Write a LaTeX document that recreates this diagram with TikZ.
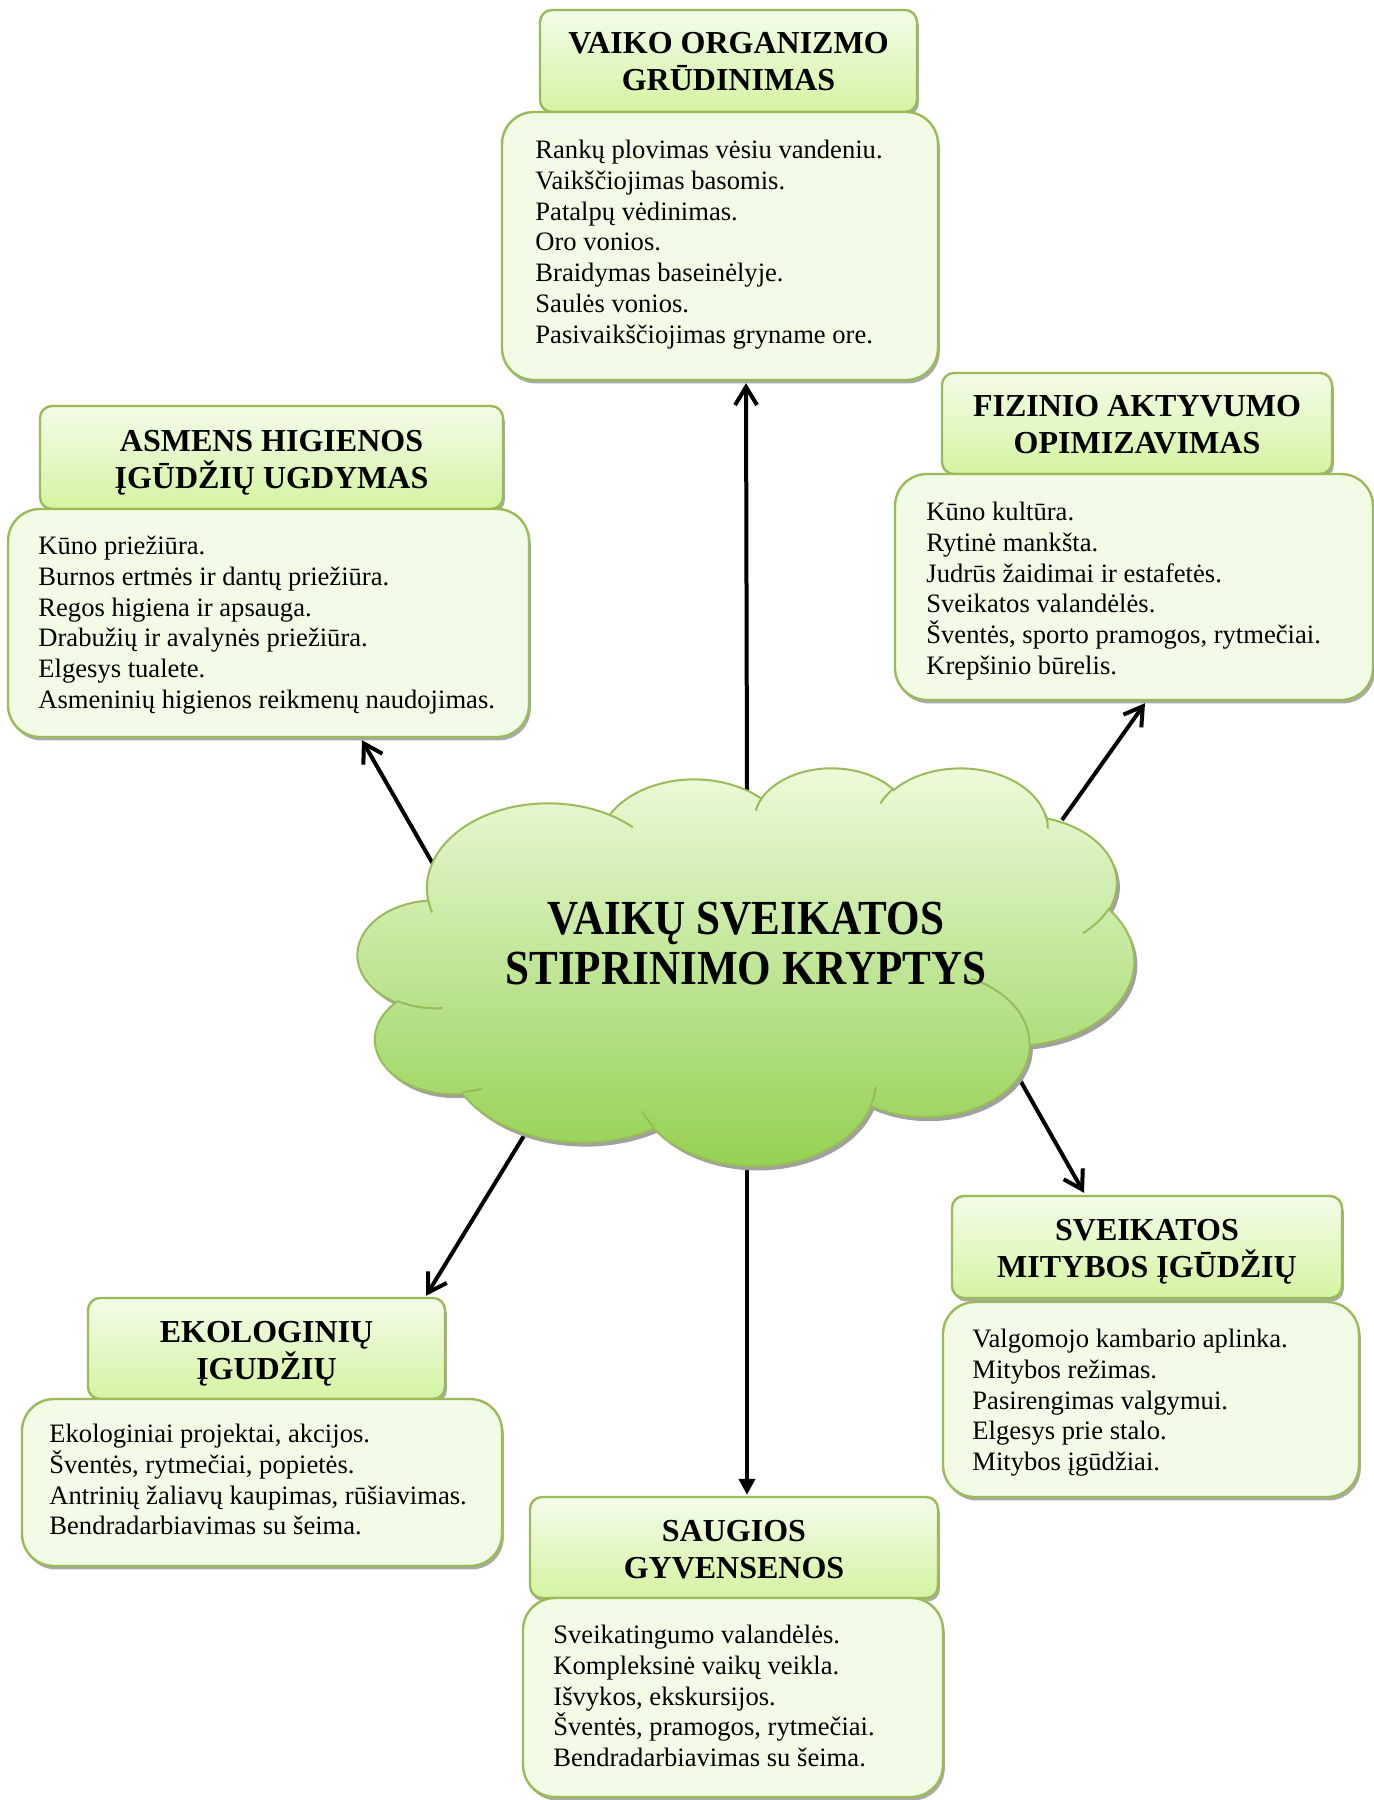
\documentclass[tikz,border=0pt]{standalone}
\usepackage{fontspec}
\setmainfont{Liberation Serif}
\usepackage{graphicx}
\usetikzlibrary{arrows.meta,shadows,fit}
\definecolor{bord}{RGB}{155,187,89}
\definecolor{ttop}{RGB}{243,252,233}
\definecolor{tbot}{RGB}{212,244,162}
\definecolor{bfill}{RGB}{241,251,229}
\definecolor{ctop}{RGB}{238,251,220}
\definecolor{cbot}{RGB}{146,208,80}
\definecolor{shad}{RGB}{160,160,160}

% visual angle (DrawingML) -> parametric angle for TikZ elliptic arcs
\newcommand\mkcloudarc[5]{%
  \pgfmathsetmacro\cldtmpa{atan2((#2)*sin(#4),(#3)*cos(#4))}%
  \pgfmathsetmacro\cldtmpb{atan2((#2)*sin((#4)+(#5)),(#3)*cos((#4)+(#5)))}%
  \pgfmathsetmacro\cldtmpc{(\cldtmpb)-(\cldtmpa)}%
  \pgfmathsetmacro\cldtmpc{(\cldtmpc<0)?(\cldtmpc+360):(\cldtmpc)}%
  \expandafter\let\csname cls#1\endcsname\cldtmpa
  \expandafter\let\csname cld#1\endcsname\cldtmpc}

\newcommand\cloudoutline{(39,143.7)
  arc[start angle=\clsA,delta angle=\cldA,x radius=67.53,y radius=91.90]
  arc[start angle=\clsB,delta angle=\cldB,x radius=53.33,y radius=72.67]
  arc[start angle=\clsC,delta angle=\cldC,x radius=43.65,y radius=59.45]
  arc[start angle=\clsD,delta angle=\cldD,x radius=48.57,y radius=65.95]
  arc[start angle=\clsE,delta angle=\cldE,x radius=53.33,y radius=72.73]
  arc[start angle=\clsF,delta angle=\cldF,x radius=67.75,y radius=92.20]
  arc[start angle=\clsG,delta angle=\cldG,x radius=57.85,y radius=78.67]
  arc[start angle=\clsH,delta angle=\cldH,x radius=67.52,y radius=92.15]
  arc[start angle=\clsI,delta angle=\cldI,x radius=77.20,y radius=105.43]
  arc[start angle=\clsJ,delta angle=\cldJ,x radius=43.60,y radius=59.18]
  arc[start angle=\clsK,delta angle=\cldK,x radius=43.45,y radius=59.45]
  -- cycle}

\begin{document}
\begin{tikzpicture}[x=0.5pt,y=-0.5pt,
  boxshadow/.style={drop shadow={shadow xshift=0.9pt,shadow yshift=-1.7pt,fill=shad,opacity=0.9}},
  titlebox/.style={draw=bord,line width=1.2pt,rounded corners=6pt,top color=ttop,bottom color=tbot,inner sep=0pt,boxshadow},
  bodybox/.style={draw=bord,line width=1.2pt,rounded corners=16pt,fill=bfill,inner sep=0pt,boxshadow},
  titletext/.style={font=\fontsize{16}{18.3}\selectfont\bfseries,align=center,inner sep=0pt,anchor=north},
  bodytext/.style={font=\fontsize{13.3}{15.4}\selectfont,align=left,inner sep=0pt,anchor=north west},
  arr/.style={line width=2pt,-{Straight Barb[length=9pt,width=11pt]}},
  arrf/.style={line width=2pt,-{Triangle[length=8pt,width=8pt]}},
  cloudline/.style={draw=bord,line width=1pt}
  ]
\useasboundingbox (0,0) rectangle (1374,1800);

% cloud arc angles
\mkcloudarc{A}{67.53}{91.90}{-190.4875}{123.7805}
\mkcloudarc{B}{53.33}{72.67}{-144.1024}{89.9452}
\mkcloudarc{C}{43.65}{59.45}{-145.8079}{99.7230}
\mkcloudarc{D}{48.57}{65.95}{-130.9861}{117.2417}
\mkcloudarc{E}{53.33}{72.73}{-78.7089}{109.0269}
\mkcloudarc{F}{67.75}{92.20}{-46.2673}{130.2690}
\mkcloudarc{G}{57.85}{78.67}{0.6250}{114.0333}
\mkcloudarc{H}{67.52}{92.15}{22.4516}{115.1726}
\mkcloudarc{I}{77.20}{105.43}{66.2426}{75.7110}
\mkcloudarc{J}{43.60}{59.18}{-274.9421}{146.7356}
\mkcloudarc{K}{43.45}{59.45}{-246.8285}{152.5189}
\mkcloudarc{L}{43.45}{59.45}{86.742}{26.4295}
\mkcloudarc{M}{43.60}{59.18}{73.6105}{11.4475}
\mkcloudarc{N}{67.52}{92.15}{137.6241}{14.0811}
\mkcloudarc{O}{67.52}{92.15}{6.4533}{15.9984}
\mkcloudarc{P}{57.85}{78.67}{-70.2924}{70.9174}
\mkcloudarc{Q}{53.33}{72.73}{30.3180}{27.7515}
\mkcloudarc{R}{48.57}{65.95}{-13.7443}{14.8572}
\mkcloudarc{S}{48.57}{65.95}{-149.1815}{18.1959}
\mkcloudarc{T}{43.65}{59.45}{-163.4943}{17.6910}
\mkcloudarc{U}{67.53}{91.90}{-66.7070}{12.3194}
\mkcloudarc{V}{67.53}{91.90}{157.6544}{11.8582}

% ---------- boxes ----------
\node[titlebox,fit={(540,10) (917,112)}] (h1) {};
\node[bodybox,fit={(502,112) (938,380)}] (b1) {};
\node[titletext] (ht1) at (728.5,23) {\rule{0pt}{15pt}VAIKO ORGANIZMO\\GRŪDINIMAS};
\node[bodytext] (bt1) at (535,133) {\rule{0pt}{12.5pt}Rankų plovimas vėsiu vandeniu.\\Vaikščiojimas basomis.\\Patalpų vėdinimas.\\Oro vonios.\\Braidymas baseinėlyje.\\Saulės vonios.\\Pasivaikščiojimas gryname ore.};

\node[titlebox,fit={(40,406) (503,509)}] (h2) {};
\node[bodybox,fit={(8,509) (529,737)}] (b2) {};
\node[titletext] (ht2) at (271.5,421) {\rule{0pt}{15pt}ASMENS HIGIENOS\\ĮGŪDŽIŲ UGDYMAS};
\node[bodytext] (bt2) at (38,529) {\rule{0pt}{12.5pt}Kūno priežiūra.\\Burnos ertmės ir dantų priežiūra.\\Regos higiena ir apsauga.\\Drabužių ir avalynės priežiūra.\\Elgesys tualete.\\Asmeninių higienos reikmenų naudojimas.};

\node[titlebox,fit={(942,373) (1332,474)}] (h3) {};
\node[bodybox,fit={(895,474) (1373,700)}] (b3) {};
\node[titletext] (ht3) at (1137,386) {\rule{0pt}{15pt}FIZINIO AKTYVUMO\\OPIMIZAVIMAS};
\node[bodytext] (bt3) at (926,495) {\rule{0pt}{12.5pt}Kūno kultūra.\\Rytinė mankšta.\\Judrūs žaidimai ir estafetės.\\Sveikatos valandėlės.\\Šventės, sporto pramogos, rytmečiai.\\Krepšinio būrelis.};

\node[titlebox,fit={(952,1196) (1342,1298)}] (h4) {};
\node[bodybox,fit={(943,1302) (1359,1497)}] (b4) {};
\node[titletext] (ht4) at (1147,1210) {\rule{0pt}{15pt}SVEIKATOS\\MITYBOS ĮGŪDŽIŲ};
\node[bodytext] (bt4) at (972,1322) {\rule{0pt}{12.5pt}Valgomojo kambario aplinka.\\Mitybos režimas.\\Pasirengimas valgymui.\\Elgesys prie stalo.\\Mitybos įgūdžiai.};

\node[titlebox,fit={(88,1298) (445,1399)}] (h5) {};
\node[bodybox,fit={(22,1399) (502,1566)}] (b5) {};
\node[titletext] (ht5) at (266.5,1312) {\rule{0pt}{15pt}EKOLOGINIŲ\\ĮGUDŽIŲ};
\node[bodytext] (bt5) at (49,1417) {\rule{0pt}{12.5pt}Ekologiniai projektai, akcijos.\\Šventės, rytmečiai, popietės.\\Antrinių žaliavų kaupimas, rūšiavimas.\\Bendradarbiavimas su šeima.};

\node[titlebox,fit={(530,1497) (938,1598)}] (h6) {};
\node[bodybox,fit={(523,1598) (943,1797)}] (b6) {};
\node[titletext] (ht6) at (734,1511) {\rule{0pt}{15pt}SAUGIOS\\GYVENSENOS};
\node[bodytext] (bt6) at (553,1618) {\rule{0pt}{12.5pt}Sveikatingumo valandėlės.\\Kompleksinė vaikų veikla.\\Išvykos, ekskursijos.\\Šventės, pramogos, rytmečiai.\\Bendradarbiavimas su šeima.};

% ---------- arrow start points on the cloud ----------
\coordinate (c1) at (747,790);
\coordinate (c2) at (433,864);
\coordinate (c3) at (1062,820);
\coordinate (c4) at (1016,1073);
\coordinate (c5) at (525,1134);
\coordinate (c6) at (747,1158);

\draw[arr] (c1) -- ([xshift=13pt,yshift=-1pt]b1.south);
\draw[arr] (c2) -- ([xshift=46.75pt,yshift=-1pt]b2.south);
\draw[arr] (c3) -- ([xshift=5.5pt,yshift=-1pt]b3.south);
\draw[arr] (c4) -- ([xshift=-31.5pt,yshift=1pt]h4.north);
\draw[arr] (c5) -- ([xshift=79.75pt,yshift=0.5pt]h5.north);
\draw[arrf] (c6) -- ([xshift=6.5pt,yshift=0.5pt]h6.north);

% ---------- cloud ----------
\begin{scope}[shift={(361,771)},xscale=1.7963,yscale=0.9213]
  \fill[shad] \cloudoutline;
\end{scope}
\begin{scope}[shift={(358,767)},xscale=1.7963,yscale=0.9213]
  \path[draw=bord,line width=1pt,top color=ctop,bottom color=cbot] \cloudoutline;
  \draw[cloudline] (46.93,261.77) arc[start angle=\clsL,delta angle=\cldL,x radius=43.45,y radius=59.45];
  \draw[cloudline] (69.28,348.99) arc[start angle=\clsM,delta angle=\cldM,x radius=43.60,y radius=59.18];
  \draw[cloudline] (164.78,390.90) arc[start angle=\clsN,delta angle=\cldN,x radius=67.52,y radius=92.15];
  \draw[cloudline] (288.27,347.51) arc[start angle=\clsO,delta angle=\cldO,x radius=67.52,y radius=92.15];
  \draw[cloudline] (341.29,229.54) arc[start angle=\clsP,delta angle=\cldP,x radius=57.85,y radius=78.67];
  \draw[cloudline] (417.98,153.54) arc[start angle=\clsQ,delta angle=\cldQ,x radius=53.33,y radius=72.73];
  \draw[cloudline] (383.24,54.26) arc[start angle=\clsR,delta angle=\cldR,x radius=48.57,y radius=65.95];
  \draw[cloudline] (290.78,39.52) arc[start angle=\clsS,delta angle=\cldS,x radius=48.57,y radius=65.95];
  \draw[cloudline] (221.41,47.20) arc[start angle=\clsT,delta angle=\cldT,x radius=43.65,y radius=59.45];
  \draw[cloudline] (140.00,51.92) arc[start angle=\clsU,delta angle=\cldU,x radius=67.53,y radius=91.90];
  \draw[cloudline] (41.27,157.89) arc[start angle=\clsV,delta angle=\cldV,x radius=67.53,y radius=91.90];
\end{scope}
\node[font=\fontsize{24.5}{25}\selectfont\bfseries,align=center,inner sep=0pt,anchor=north] (ct) at (746,898)
  {\rule{0pt}{18pt}\scalebox{0.88}[1]{VAIKŲ SVEIKATOS}\\\scalebox{0.88}[1]{STIPRINIMO KRYPTYS}};
\end{tikzpicture}
\end{document}
